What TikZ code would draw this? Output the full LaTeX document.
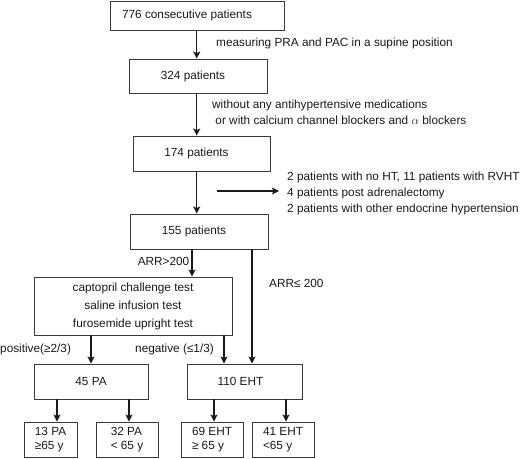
\documentclass[tikz,border=0pt]{standalone}
\usepackage{fontspec}
\setmainfont{Liberation Sans}
\usepackage{xcolor}
\usetikzlibrary{arrows.meta}
\definecolor{fcInk}{HTML}{1A1A1A}
\definecolor{fcLine}{HTML}{3A3A3A}
\tikzset{
  box/.style   ={draw=fcLine, line width=0.9pt, fill=white, align=center, inner sep=2pt, text=fcInk, font=\fontsize{11.8}{18}\selectfont},
  small/.style ={draw=fcLine, line width=0.9pt, fill=white, align=left, inner sep=2pt, text=fcInk, font=\fontsize{11.8}{14}\selectfont},
  note/.style  ={inner sep=0pt, anchor=west, align=left, text=fcInk, font=\fontsize{11.8}{16}\selectfont},
  arr/.style   ={-{Stealth[length=7pt,width=7pt,inset=1.5pt]}, line width=1.4pt, fcInk},
}
\begin{document}
\begin{tikzpicture}[x=1pt,y=-1pt]
\useasboundingbox (0,0) rectangle (532,458);
% ---- screening column ----
\node[box,minimum width=174pt,minimum height=29pt] (n776) at (197,15.5)  {776 consecutive patients\hspace*{20pt}};
\node[box,minimum width=138pt,minimum height=34pt] (n324) at (198,76)    {324 patients\hspace*{10pt}};
\node[box,minimum width=137pt,minimum height=35pt] (n174) at (201.5,153.5) {174 patients\hspace*{10pt}};
\node[box,minimum width=138pt,minimum height=35pt] (n155) at (199,231.5) {155 patients\hspace*{10pt}};

\node[note] (lblPRA) at (216,43) {measuring PRA and PAC in a supine position};
\node[note] (lblMed) at (212,112.5) {without any antihypertensive medications\\\ or with calcium channel blockers and $\alpha$ blockers};
\node[note] (excl)   at (287,193.5) {2 patients with no HT, 11 patients with RVHT\\4 patients post adrenalectomy\\2 patients with other endocrine hypertension};
\coordinate (exclFrom) at (217,191);

\draw[arr] ([xshift=-0.3pt]n776.south) -- ([xshift=-0.3pt]n776.south |- n324.north);
\draw[arr] ([xshift=-1.3pt]n324.south) -- ([xshift=-1.3pt]n324.south |- n174.north);
\draw[arr] ([xshift=-4.8pt]n174.south) -- ([xshift=-4.8pt]n174.south |- n155.north);
\draw[arr] (exclFrom) -- ([xshift=-8pt]excl.west |- exclFrom);

% ---- confirmatory tests ----
\node[box,minimum width=198pt,minimum height=58pt] (tests) at (133,306)
  {captopril challenge test\\saline infusion test\\furosemide upright test};
\node[box,minimum width=114pt,minimum height=35pt] (pa45)   at (91,381.5)    {45 PA};
\node[box,minimum width=115pt,minimum height=35pt] (eht110) at (244.5,381.5) {110 EHT\hspace*{8pt}};

\draw[arr] ([xshift=-7pt]n155.south) -- ([xshift=-7pt]n155.south |- tests.north)
  node[pos=0.45,left=2pt,note,anchor=east] (lblHigh) {ARR>200};
\draw[arr] ([xshift=7.5pt]eht110.north |- n155.south) -- ([xshift=7.5pt]eht110.north);
\node[note] (lblLow) at (269,283) {ARR≤ 200};
\draw[arr] (pa45.north |- tests.south) -- (pa45.north);
\draw[arr] ([xshift=-20.5pt]eht110.north |- tests.south) -- ([xshift=-20.5pt]eht110.north);
\node[note] (lblPos) at (0,349)   {positive(≥2/3)};
\node[note] (lblNeg) at (135,349) {negative (≤1/3)};

% ---- age split ----
\node[small,minimum width=53pt,minimum height=35pt] (pa13)  at (50.5,439.5) {13 PA\\≥65 y};
\node[small,minimum width=62pt,minimum height=35pt] (pa32)  at (127,439.5)  {32 PA\\< 65 y};
\node[small,minimum width=62pt,minimum height=35pt] (eht69) at (212,439.5)  {69 EHT\\≥ 65 y};
\node[small,minimum width=62pt,minimum height=35pt] (eht41) at (283,439.5)  {41 EHT\\<65 y};

\draw[arr] ([xshift=6.5pt]pa13.north |- pa45.south) -- ([xshift=6.5pt]pa13.north);
\draw[arr] ([xshift=2pt]pa32.north |- pa45.south) -- ([xshift=2pt]pa32.north);
\draw[arr] ([xshift=2pt]eht69.north |- eht110.south) -- ([xshift=2pt]eht69.north);
\draw[arr] ([xshift=3pt]eht41.north |- eht110.south) -- ([xshift=3pt]eht41.north);
\end{tikzpicture}
\end{document}
